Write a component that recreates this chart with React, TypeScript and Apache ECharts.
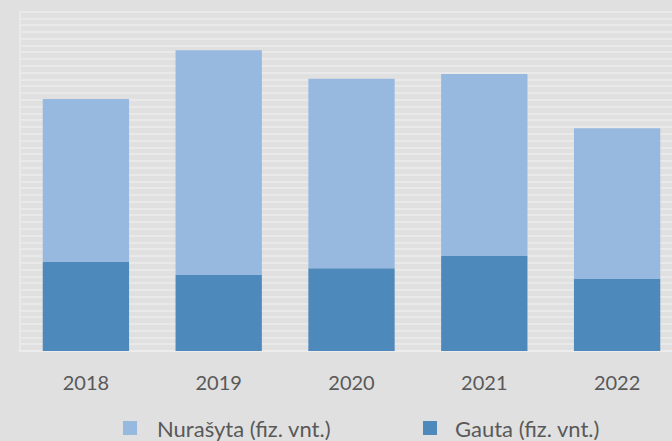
import React, { useEffect, useRef } from "react";
import * as echarts from "echarts";

const categories = ["2018", "2019", "2020", "2021", "2022"];
const gauta = [13.1, 11.2, 12.2, 14.0, 10.6];
const nurasyta = [24.0, 33.1, 27.9, 26.8, 22.2];
const seriesNames = ["Nurašyta (fiz. vnt.)", "Gauta (fiz. vnt.)"];

const FONT = "Lato";

export default function App() {
  const ref = useRef<HTMLDivElement>(null);
  useEffect(() => {
    if (!ref.current) return;
    const chart = echarts.init(ref.current, null, { renderer: "svg" });
    const legendText = { color: "#595959", fontSize: 22, fontFamily: FONT, lineHeight: 22 };
    chart.setOption({
      animation: false,
      backgroundColor: "#e0e0e0",
      grid: { left: 19.5, width: 664, top: 11.5, bottom: 90, containLabel: false, outerBoundsMode: "none" },
      legend: [
        {
          data: [seriesNames[0]],
          left: 123,
          top: 417,
          padding: 0,
          icon: "rect",
          itemWidth: 14,
          itemHeight: 14,
          itemGap: 0,
          textStyle: { ...legendText, padding: [0, 0, 0, 15] },
        },
        {
          data: [seriesNames[1]],
          left: 423,
          top: 417,
          padding: 0,
          icon: "rect",
          itemWidth: 14,
          itemHeight: 14,
          itemGap: 0,
          textStyle: { ...legendText, padding: [0, 0, 0, 13] },
        },
      ],
      xAxis: {
        type: "category",
        data: categories,
        axisTick: { show: false },
        axisLine: { show: true, lineStyle: { color: "#ececec", width: 2 } },
        axisLabel: { color: "#595959", fontSize: 20, fontFamily: FONT, margin: 21 },
      },
      yAxis: {
        type: "value",
        min: 0,
        max: 50,
        interval: 1,
        axisLabel: { show: false },
        axisTick: { show: false },
        axisLine: { show: true, lineStyle: { color: "#e9e9e9", width: 2 } },
        splitLine: { show: true, lineStyle: { color: "#ededed", width: 1.5 } },
      },
      series: [
        {
          name: seriesNames[1],
          type: "bar",
          stack: "total",
          data: gauta,
          barCategoryGap: "35%",
          itemStyle: { color: "#4e89bb" },
        },
        {
          name: seriesNames[0],
          type: "bar",
          stack: "total",
          data: nurasyta,
          barCategoryGap: "35%",
          itemStyle: { color: "#97b9e0" },
        },
      ],
    });
    return () => chart.dispose();
  }, []);
  return <div ref={ref} style={{ width: 672, height: 441, position: "absolute", left: 0, top: 0 }} />;
}
